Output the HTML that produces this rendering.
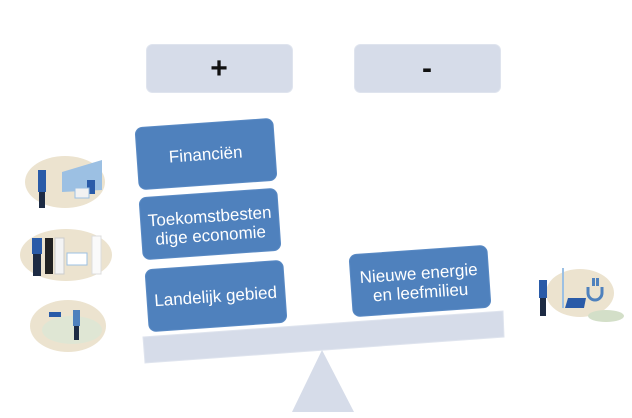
<!DOCTYPE html>
<html><head><meta charset="utf-8"><style>
html,body{margin:0;padding:0;background:#fff;width:632px;height:418px;overflow:hidden}
svg text{font-family:"Liberation Sans",sans-serif}
</style></head><body>
<svg width="632" height="418" viewBox="0 0 632 418" xmlns="http://www.w3.org/2000/svg">
<rect x="146.5" y="44.5" width="146" height="48" rx="6" fill="#d6dce9" stroke="#dfe4ee"/>
<rect x="354.5" y="44.5" width="146" height="48" rx="6" fill="#d6dce9" stroke="#dfe4ee"/>
<text x="219" y="78" font-size="30" font-weight="bold" text-anchor="middle" fill="#111">+</text>
<text x="427" y="78" font-size="30" font-weight="bold" text-anchor="middle" fill="#111">-</text>
<polygon points="322,350 292,412 354,412" fill="#d6dce9"/>
<polygon points="143,337 503,311 504,337 145,363" fill="#d6dce9" stroke="#dfe4ee"/>
<g fill="#4f81bd" stroke="#5a8ac4">
<rect x="-69" y="-31" width="138" height="62" rx="7" transform="translate(206,154) rotate(-4)"/>
<rect x="-69" y="-31" width="138" height="62" rx="7" transform="translate(210,224) rotate(-4)"/>
<rect x="-69" y="-31" width="138" height="62" rx="7" transform="translate(216,296) rotate(-4)"/>
<rect x="-69" y="-31" width="138" height="62" rx="7" transform="translate(420,281) rotate(-4)"/>
</g>
<g fill="#fff" font-size="17" text-anchor="middle">
<text transform="translate(206,160) rotate(-4)">Financiën</text>
<text transform="translate(210,222) rotate(-4)">Toekomstbesten</text>
<text transform="translate(211,241) rotate(-4)">dige economie</text>
<text transform="translate(216,302) rotate(-4)">Landelijk gebied</text>
<text transform="translate(419,279) rotate(-4)">Nieuwe energie</text>
<text transform="translate(421,298) rotate(-4)">en leefmilieu</text>
</g>
<!-- illustrations -->
<ellipse cx="65" cy="182" rx="40" ry="26" fill="#ece3cf"/>
<polygon points="62,172 102,160 102,190 62,192" fill="#9cc0e3"/>
<rect x="38" y="170" width="8" height="22" fill="#2a5ba8"/><rect x="39" y="192" width="6" height="16" fill="#1d2b44"/>
<rect x="87" y="180" width="8" height="14" fill="#2a5ba8"/><rect x="75" y="188" width="14" height="10" fill="#f2f2f2" stroke="#9cc0e3"/>
<ellipse cx="66" cy="255" rx="46" ry="26" fill="#ece3cf"/>
<rect x="32" y="238" width="10" height="16" fill="#2a5ba8"/><rect x="33" y="254" width="8" height="22" fill="#1d2b44"/>
<rect x="45" y="238" width="8" height="36" fill="#222"/><rect x="55" y="238" width="9" height="36" fill="#f4f4f4" stroke="#ccc"/>
<rect x="67" y="253" width="20" height="12" fill="#fff" stroke="#9cc0e3"/>
<rect x="92" y="236" width="9" height="38" fill="#fafafa" stroke="#ddd"/>
<ellipse cx="68" cy="326" rx="38" ry="26" fill="#ece3cf"/>
<ellipse cx="72" cy="330" rx="30" ry="14" fill="#dfe6d4"/>
<rect x="49" y="312" width="12" height="5" fill="#2a5ba8"/>
<rect x="73" y="310" width="7" height="16" fill="#4f81bd"/><rect x="74" y="326" width="5" height="14" fill="#1d2b44"/>
<ellipse cx="580" cy="293" rx="34" ry="24" fill="#ece3cf"/>
<ellipse cx="606" cy="316" rx="18" ry="6" fill="#d3dfc8"/>
<rect x="562" y="268" width="2" height="40" fill="#9cc0e3"/>
<polygon points="568,298 586,298 584,308 565,308" fill="#2a5ba8"/>
<rect x="539" y="280" width="8" height="18" fill="#2a5ba8"/><rect x="540" y="298" width="6" height="18" fill="#1d2b44"/>
<path d="M588 287 v6 a7 7 0 0 0 14 0 v-6" fill="none" stroke="#4f81bd" stroke-width="3"/>
<rect x="592" y="278" width="3" height="8" fill="#4f81bd"/><rect x="596" y="278" width="3" height="8" fill="#4f81bd"/>
</svg>
</body></html>
